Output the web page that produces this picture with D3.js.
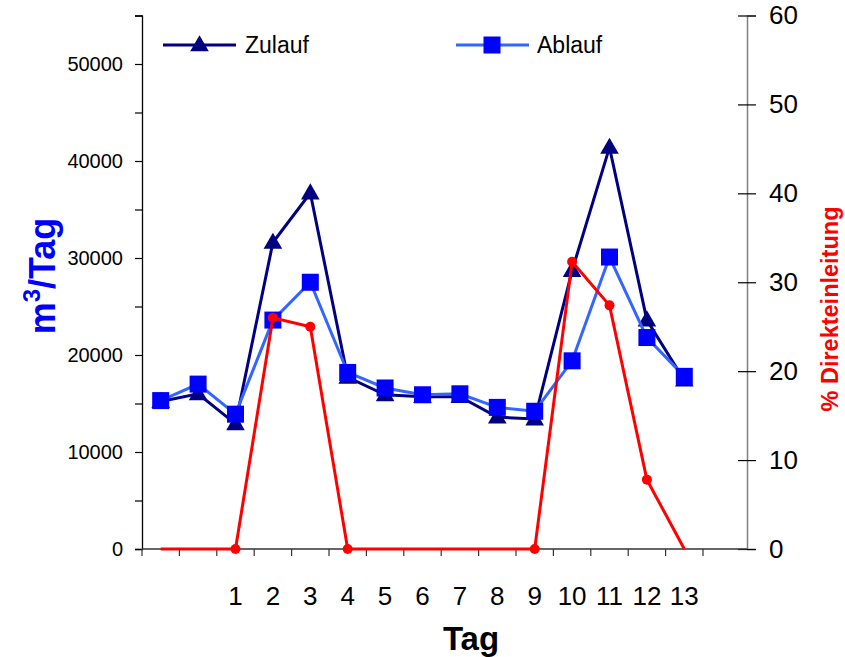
<!DOCTYPE html>
<html>
<head>
<meta charset="utf-8">
<script src="https://cdn.jsdelivr.net/npm/d3@7"></script>
<style>
  body { margin: 0; background: #fff; }
  text { font-family: "Liberation Sans", Arial, sans-serif; }
</style>
</head>
<body>
<div id="chart-area"></div>
<script>
// Tag labels (first two points have no label in the original)
const tage = ['', '', '1', '2', '3', '4', '5', '6', '7', '8', '9', '10', '11', '12', '13'];
const zulauf = [15200, 16000, 12900, 31600, 36700, 17700, 15900, 15700, 15700, 13600, 13400, 28700, 41400, 23600, 17400];
const ablauf = [15300, 17000, 13900, 23600, 27500, 18200, 16600, 15900, 16000, 14600, 14200, 19400, 30100, 21800, 17800];
const direkt = [0, 0, 0, 26, 25, 0, 0, 0, 0, 0, 0, 32.3, 27.4, 7.8, 0];
const leftTicks = [0, 10000, 20000, 30000, 40000, 50000];
const rightTicks = [0, 10, 20, 30, 40, 50, 60];

const WIDTH = 845, HEIGHT = 657;
const PLOT = { LEFT: 142, RIGHT: 747, TOP: 15.5, BOTTOM: 549 };
const SLOTS = 16, SLOT_W = 37.4;

const svg = d3.select('#chart-area').append('svg')
  .attr('width', WIDTH).attr('height', HEIGHT);

const x = d3.scaleBand()
  .domain(d3.range(SLOTS))
  .range([PLOT.LEFT, PLOT.LEFT + SLOTS * SLOT_W]);
const cx = i => x(i) + x.bandwidth() / 2;

const yL = d3.scaleLinear().domain([0, 55000]).range([PLOT.BOTTOM, PLOT.TOP]);
const yR = d3.scaleLinear().domain([0, 60]).range([PLOT.BOTTOM, PLOT.TOP]);

// left axis: ticks every 5000, labels every 10000
const leftAxis = svg.append('g')
  .attr('transform', `translate(${PLOT.LEFT},0)`)
  .call(d3.axisLeft(yL).tickValues(d3.range(0, 55001, 5000)).tickSizeOuter(0).tickSize(7)
    .tickFormat(d => leftTicks.includes(d) ? d : ''));
leftAxis.select('.domain').attr('stroke', '#000').attr('stroke-width', 1.3);
leftAxis.selectAll('.tick line').attr('stroke', '#000').attr('stroke-width', 1.2);
leftAxis.selectAll('.tick text').attr('font-size', 20).attr('x', -19)
  .attr('font-family', '"Liberation Sans", Arial, sans-serif').attr('fill', '#000');

// right axis: ticks cross the line
const rightAxis = svg.append('g')
  .attr('transform', `translate(${PLOT.RIGHT},0)`)
  .call(d3.axisRight(yR).tickValues(rightTicks).tickSizeOuter(0).tickSize(9));
rightAxis.select('.domain').attr('stroke', '#808080').attr('stroke-width', 1.5);
rightAxis.selectAll('.tick line').attr('x1', -9).attr('stroke', '#000').attr('stroke-width', 1.2);
rightAxis.selectAll('.tick text').attr('font-size', 26).attr('x', 22)
  .attr('font-family', '"Liberation Sans", Arial, sans-serif').attr('fill', '#000');

// x axis: line plus ticks at slot boundaries
const xg = svg.append('g');
xg.append('line')
  .attr('x1', PLOT.LEFT).attr('x2', PLOT.RIGHT)
  .attr('y1', PLOT.BOTTOM).attr('y2', PLOT.BOTTOM)
  .attr('stroke', '#333').attr('stroke-width', 1.3);
xg.selectAll('line.tick')
  .data(d3.range(SLOTS))
  .join('line').attr('class', 'tick')
  .attr('x1', d => x(d)).attr('x2', d => x(d))
  .attr('y1', PLOT.BOTTOM).attr('y2', PLOT.BOTTOM + 7)
  .attr('stroke', '#333').attr('stroke-width', 1.2);
xg.selectAll('text')
  .data(tage)
  .join('text')
  .attr('x', (d, i) => cx(i))
  .attr('y', 605)
  .attr('text-anchor', 'middle')
  .attr('font-size', 26)
  .text(d => d);

// axis titles
svg.append('text')
  .attr('x', 471).attr('y', 650)
  .attr('text-anchor', 'middle')
  .attr('font-size', 33).attr('font-weight', 'bold')
  .text('Tag');

const yt = svg.append('text')
  .attr('transform', 'translate(55,276) rotate(-90)')
  .attr('text-anchor', 'middle')
  .attr('font-size', 36).attr('font-weight', 'bold')
  .attr('fill', '#0000FF');
yt.append('tspan').text('m');
yt.append('tspan').attr('dy', -15).attr('font-size', 24).text('3');
yt.append('tspan').attr('dy', 15).text('/Tag');

svg.append('text')
  .attr('transform', 'translate(838,309) rotate(-90)')
  .attr('text-anchor', 'middle')
  .attr('font-size', 23.5).attr('font-weight', 'bold')
  .attr('fill', '#FF0000')
  .text('% Direkteinleitung');

const line = y => d3.line().x((d, i) => cx(i)).y(d => y(d));
const tri = d3.symbol().type(d3.symbolTriangle).size(150);

// Zulauf
svg.append('path').datum(zulauf)
  .attr('d', line(yL))
  .attr('fill', 'none').attr('stroke', '#000080').attr('stroke-width', 3);
svg.selectAll('path.zu')
  .data(zulauf).join('path').attr('class', 'zu')
  .attr('d', tri)
  .attr('transform', (d, i) => `translate(${cx(i)},${yL(d) + 1})`)
  .attr('fill', '#000080');

// Ablauf
svg.append('path').datum(ablauf)
  .attr('d', line(yL))
  .attr('fill', 'none').attr('stroke', '#3366FF').attr('stroke-width', 3);
svg.selectAll('rect.ab')
  .data(ablauf).join('rect').attr('class', 'ab')
  .attr('x', (d, i) => cx(i) - 8.5).attr('y', d => yL(d) - 8.5)
  .attr('width', 17).attr('height', 17)
  .attr('fill', '#0000FF');

// Direkteinleitung (markers only where the series rises or falls)
svg.append('path').datum(direkt)
  .attr('d', line(yR))
  .attr('fill', 'none').attr('stroke', '#FF0000').attr('stroke-width', 3);
const marked = direkt.map((d, i) => ({ d, i }))
  .filter(({ d, i }) => i < direkt.length - 1 && (d > 0 || direkt[i + 1] > 0 || (i > 0 && direkt[i - 1] > 0)));
svg.selectAll('circle.di')
  .data(marked).join('circle').attr('class', 'di')
  .attr('cx', p => cx(p.i)).attr('cy', p => yR(p.d))
  .attr('r', 5).attr('fill', '#FF0000');

// legend
const lg = svg.append('g');
lg.append('line').attr('x1', 163).attr('x2', 236).attr('y1', 45).attr('y2', 45)
  .attr('stroke', '#000080').attr('stroke-width', 3);
lg.append('path').attr('d', tri).attr('transform', 'translate(199.5,46)').attr('fill', '#000080');
lg.append('text').attr('x', 245).attr('y', 53).attr('font-size', 23).text('Zulauf');

lg.append('line').attr('x1', 456).attr('x2', 529).attr('y1', 45).attr('y2', 45)
  .attr('stroke', '#3366FF').attr('stroke-width', 3);
lg.append('rect').attr('x', 483.5).attr('y', 36.5).attr('width', 17).attr('height', 17).attr('fill', '#0000FF');
lg.append('text').attr('x', 537).attr('y', 53).attr('font-size', 23).text('Ablauf');
</script>
</body>
</html>
